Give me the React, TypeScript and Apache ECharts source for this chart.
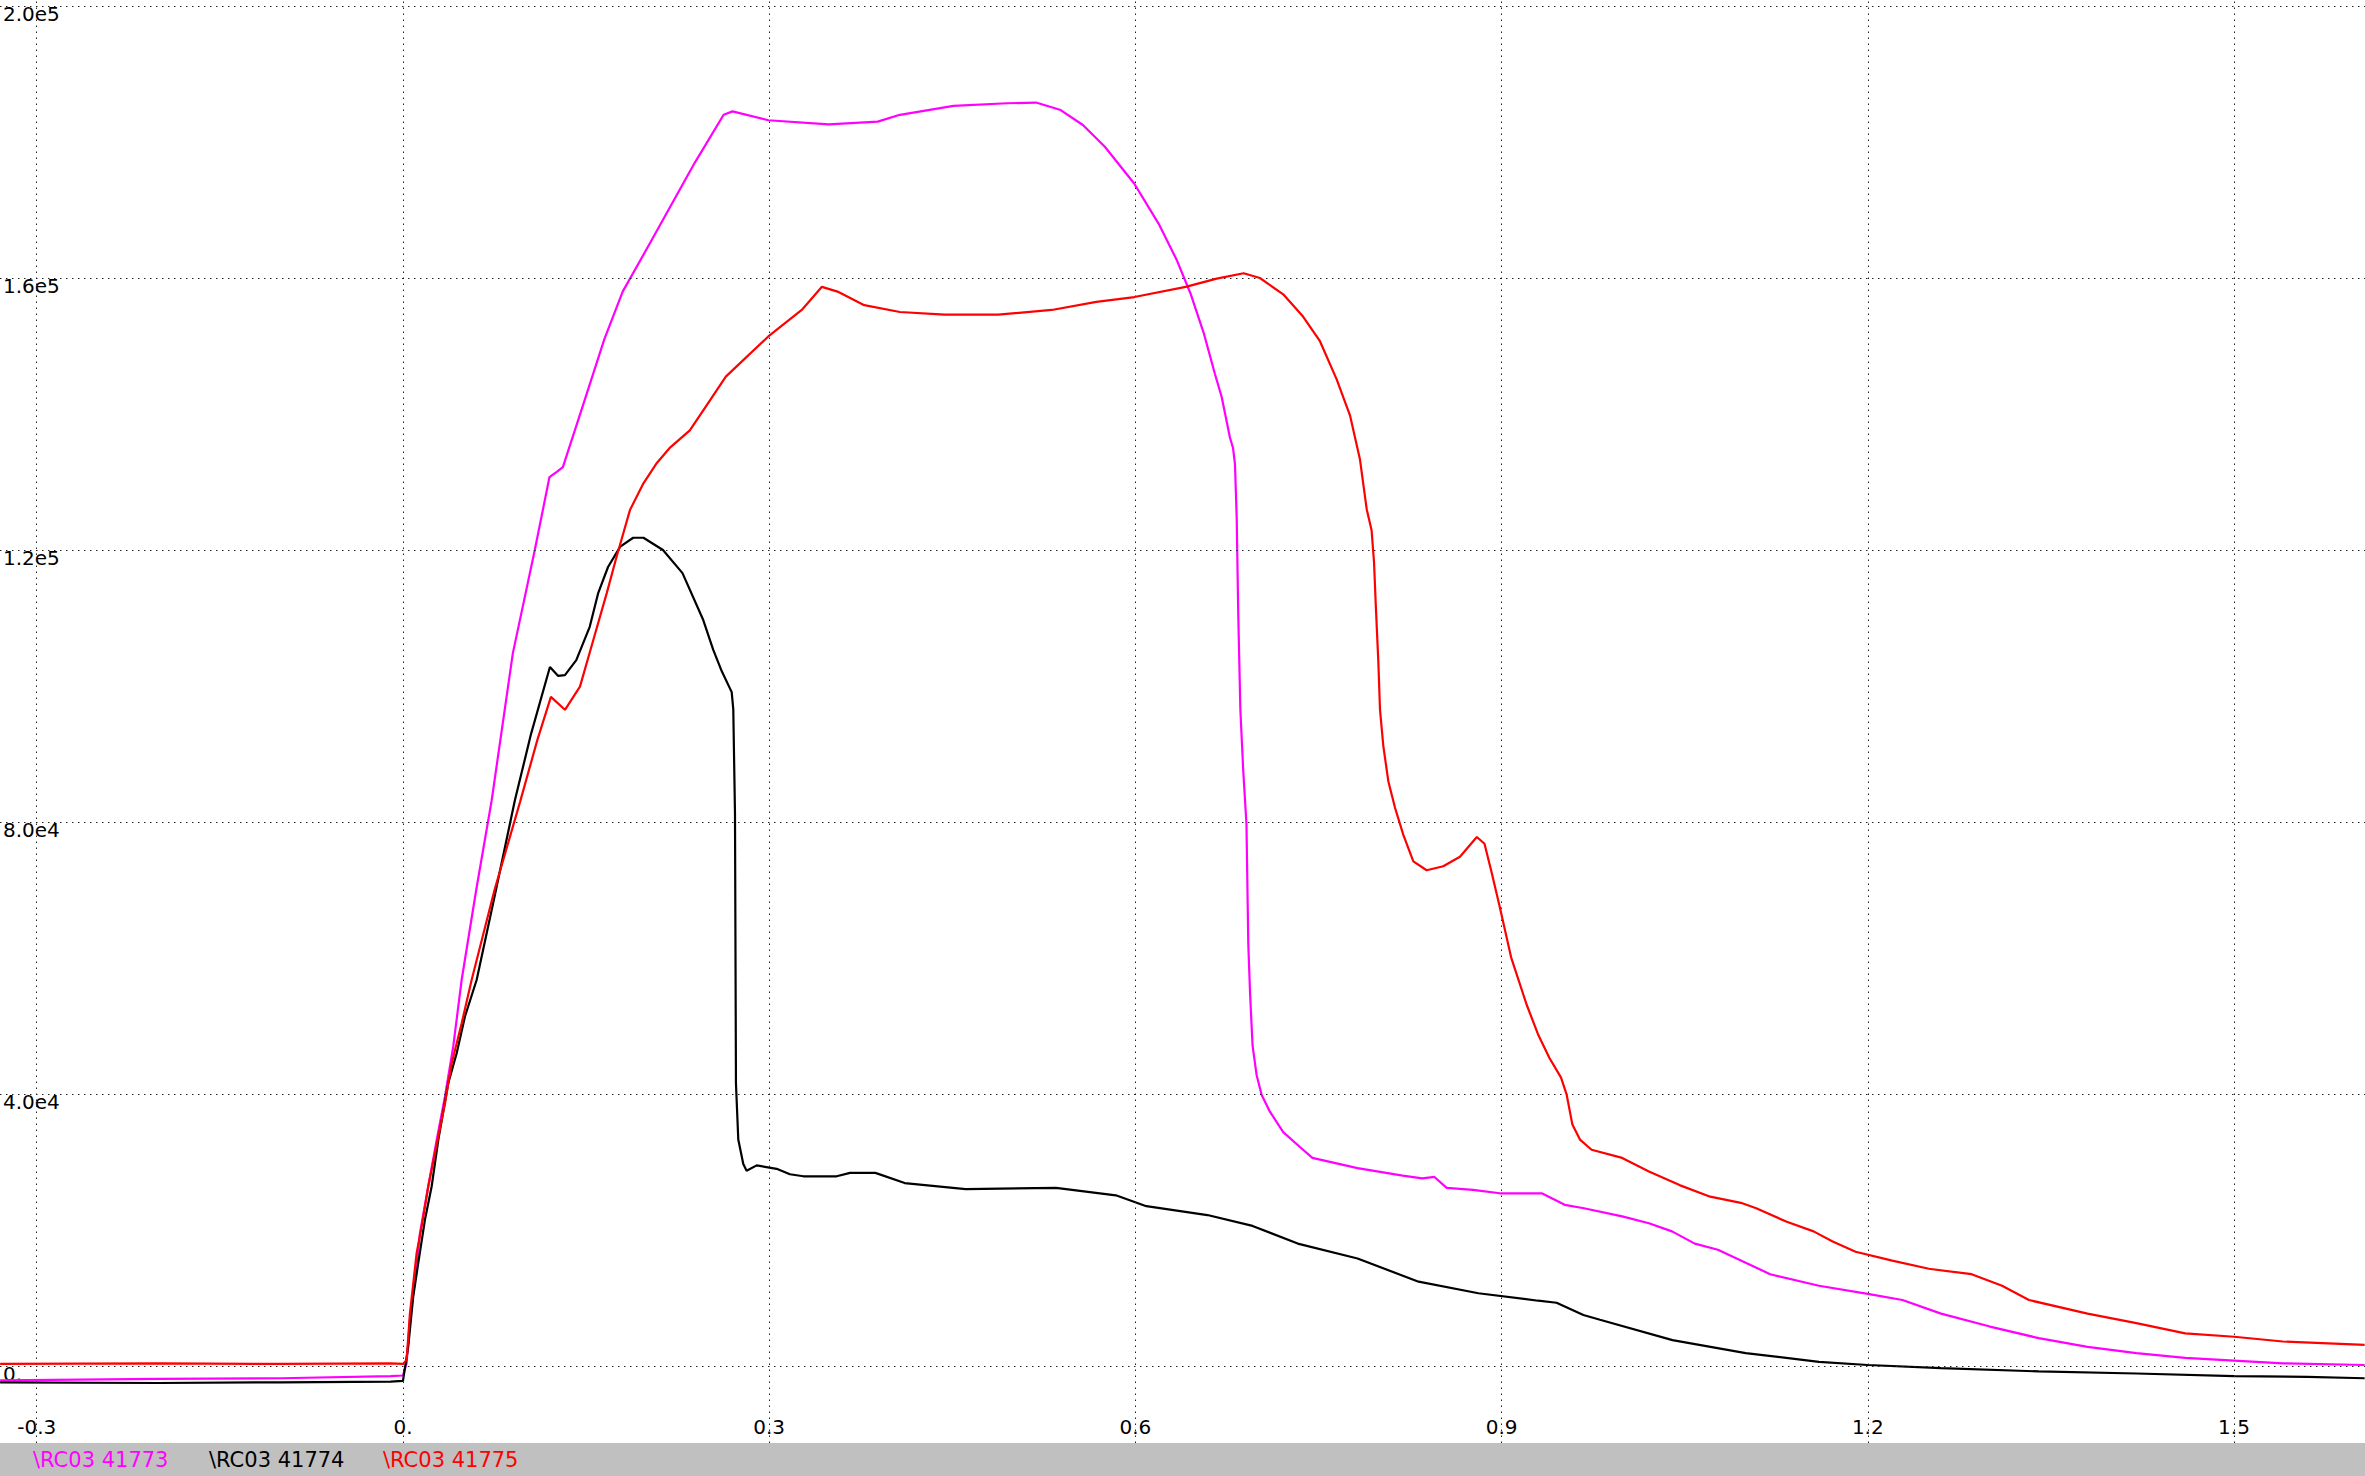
import React, { useEffect, useRef } from "react";
import * as echarts from "echarts";

const seriesNames = ["\\RC03 41773", "\\RC03 41774", "\\RC03 41775"];
const seriesColors = ["#ff00ff", "#000000", "#ff0000"];

const xTicks = [-0.3, 0, 0.3, 0.6, 0.9, 1.2, 1.5];
const xTickLabels = ["-0.3", "0.", "0.3", "0.6", "0.9", "1.2", "1.5"];
const yTicks = [0, 40000, 80000, 120000, 160000, 200000];
const yTickLabels = ["0.", "4.0e4", "8.0e4", "1.2e5", "1.6e5", "2.0e5"];

const magenta41773: [number, number][] = [
  [-0.33, -2100], [-0.2, -1900], [-0.1, -1800], [-0.01, -1500], [0.0, -1400],
  [0.003, 400], [0.0057, 6800], [0.0098, 12600], [0.0139, 19500], [0.0207, 26400],
  [0.0276, 33200], [0.0344, 39600], [0.0412, 47000], [0.0481, 56800], [0.06, 70000],
  [0.0727, 83200], [0.09, 104800], [0.108, 120000], [0.12, 130700], [0.126, 131500],
  [0.131, 132200], [0.147, 141000], [0.165, 151000], [0.18, 158000], [0.2023, 165100],
  [0.2389, 176900], [0.2627, 184000], [0.27, 184500], [0.2993, 183200], [0.3487, 182600],
  [0.3889, 183000], [0.4071, 184000], [0.451, 185300], [0.4948, 185700], [0.5186, 185800],
  [0.5388, 184700], [0.557, 182500], [0.575, 179300], [0.599, 173900], [0.619, 168000],
  [0.634, 162600], [0.645, 157800], [0.656, 151900], [0.665, 146000], [0.6707, 142500],
  [0.6775, 136500], [0.68, 135000], [0.6816, 132600], [0.683, 124700], [0.6843, 110300],
  [0.686, 96500], [0.6884, 87400], [0.691, 79700], [0.6925, 62000], [0.694, 54600],
  [0.696, 47100], [0.6993, 42800], [0.7034, 39900], [0.7102, 37400], [0.7211, 34400],
  [0.7348, 32200], [0.745, 30600], [0.782, 29100], [0.819, 28000], [0.835, 27600],
  [0.845, 27800], [0.855, 26200], [0.8766, 25900], [0.8985, 25400], [0.9329, 25400],
  [0.9517, 23700], [0.9675, 23200], [0.9988, 22000], [1.0207, 21000], [1.0396, 19800],
  [1.0583, 18000], [1.0772, 17100], [1.12, 13500], [1.16, 11800], [1.2, 10600],
  [1.2284, 9700], [1.26, 7700], [1.3, 5800], [1.34, 4100], [1.38, 2800],
  [1.42, 1900], [1.46, 1200], [1.5, 800], [1.54, 400], [1.607, 150],
];

const black41774: [number, number][] = [
  [-0.33, -2400], [-0.2, -2500], [-0.1, -2400], [-0.01, -2300], [0.0, -2200],
  [0.0043, 2800], [0.0084, 10200], [0.0125, 15100], [0.018, 21500], [0.0235, 26400],
  [0.0289, 33200], [0.0371, 41600], [0.044, 46000], [0.0508, 51400], [0.0604, 56800],
  [0.075, 69000], [0.0917, 83200], [0.105, 93000], [0.1204, 102800], [0.127, 101500],
  [0.1327, 101600], [0.142, 103800], [0.153, 108700], [0.16, 113700], [0.168, 117500],
  [0.178, 120500], [0.1886, 121800], [0.197, 121800], [0.213, 120000], [0.229, 116600],
  [0.246, 109700], [0.2542, 105300], [0.2611, 102200], [0.2693, 99100], [0.2706, 96600],
  [0.272, 81200], [0.2728, 41500], [0.2747, 33300], [0.2788, 29700], [0.2815, 28700],
  [0.2898, 29500], [0.3061, 29000], [0.317, 28200], [0.328, 27900], [0.3553, 27900],
  [0.3662, 28400], [0.387, 28400], [0.411, 26900], [0.461, 26000], [0.535, 26200],
  [0.584, 25100], [0.609, 23500], [0.659, 22200], [0.696, 20600], [0.733, 18000],
  [0.782, 15800], [0.832, 12400], [0.881, 10700], [0.93, 9600], [0.945, 9300],
  [0.967, 7500], [0.9806, 6800], [1.04, 3800], [1.1, 1900], [1.16, 600],
  [1.2, 150], [1.26, -300], [1.34, -800], [1.42, -1100], [1.5, -1500],
  [1.56, -1600], [1.607, -1800],
];

const red41775: [number, number][] = [
  [-0.33, 300], [-0.2, 400], [-0.1, 300], [-0.01, 400], [0.0, 300],
  [0.003, 900], [0.0057, 7700], [0.0112, 16600], [0.0153, 20500], [0.0207, 26400],
  [0.0262, 31300], [0.0344, 38600], [0.0399, 44500], [0.0481, 50400], [0.0563, 56800],
  [0.075, 70000], [0.096, 83000], [0.11, 92000], [0.1212, 98400], [0.1327, 96500],
  [0.145, 99900], [0.156, 106800], [0.167, 113700], [0.175, 119000], [0.179, 121500],
  [0.186, 125900], [0.197, 129800], [0.208, 132800], [0.219, 135100], [0.235, 137600],
  [0.2515, 142000], [0.2645, 145500], [0.2993, 151400], [0.3267, 155300], [0.3432, 158700],
  [0.356, 158000], [0.3779, 156000], [0.4071, 155000], [0.4437, 154600], [0.4876, 154600],
  [0.5315, 155300], [0.568, 156500], [0.5992, 157200], [0.6412, 158700], [0.6666, 159900],
  [0.6887, 160700], [0.702, 160000], [0.7211, 157600], [0.7375, 154300], [0.7512, 150700],
  [0.7649, 145100], [0.7758, 139800], [0.784, 133300], [0.7895, 126000], [0.7935, 122900],
  [0.7955, 118200], [0.797, 111600], [0.799, 103700], [0.8004, 96500], [0.8031, 91200],
  [0.8072, 86000], [0.8127, 82100], [0.8195, 78100], [0.8277, 74200], [0.8386, 72900],
  [0.8522, 73500], [0.8659, 74900], [0.8797, 77800], [0.886, 76800], [0.8921, 72400],
  [0.8985, 67500], [0.9078, 60100], [0.9204, 53200], [0.9298, 48800], [0.9392, 45300],
  [0.9487, 42400], [0.9533, 39900], [0.958, 35500], [0.9642, 33300], [0.9737, 31800],
  [0.9988, 30600], [1.0207, 28600], [1.0458, 26600], [1.0709, 24900], [1.096, 24000],
  [1.1086, 23200], [1.1336, 21200], [1.1556, 19800], [1.1712, 18300], [1.19, 16800],
  [1.22, 15500], [1.25, 14300], [1.285, 13500], [1.31, 11800], [1.332, 9700],
  [1.38, 7700], [1.42, 6300], [1.46, 4800], [1.5, 4300], [1.54, 3600], [1.607, 3100],
];

const seriesData = [magenta41773, black41774, red41775];

const W = 2365;
const H = 1476;
const FONT = "'DejaVu Sans', sans-serif";

export default function App() {
  const ref = useRef<HTMLDivElement>(null);

  useEffect(() => {
    document.body.style.margin = "0";
    if (!ref.current) return;
    const chart = echarts.init(ref.current, undefined, { renderer: "svg" });

    const legendX = [33, 209, 383];

    const option: any = {
      animation: false,
      backgroundColor: "#ffffff",
      grid: { left: 0, right: 0, top: 0, bottom: 33, containLabel: false },
      xAxis: {
        type: "value",
        min: -0.3301,
        max: 1.6073,
        axisLine: { show: false },
        axisTick: { show: false },
        splitLine: { show: false },
        axisLabel: {
          inside: true,
          margin: 6,
          customValues: xTicks,
          color: "#000",
          fontSize: 20,
          fontFamily: FONT,
          formatter: (v: number) => {
            const i = xTicks.findIndex((t) => Math.abs(t - v) < 1e-6);
            return i >= 0 ? xTickLabels[i] : "";
          },
        },
      },
      yAxis: {
        type: "value",
        min: -11324,
        max: 200882,
        axisLine: { show: false },
        axisTick: { show: false },
        splitLine: { show: false },
        axisLabel: {
          inside: true,
          margin: 3,
          customValues: yTicks,
          color: "#000",
          fontSize: 20,
          fontFamily: FONT,
          verticalAlign: "top",
          lineHeight: 17,
          formatter: (v: number) => {
            const i = yTicks.findIndex((t) => Math.abs(t - v) < 1e-6);
            return i >= 0 ? yTickLabels[i] : "";
          },
        },
      },
      series: [
        {
          type: "line",
          name: "grid",
          data: [[-0.3, 0]],
          showSymbol: false,
          silent: true,
          lineStyle: { opacity: 0 },
          z: 1,
          markLine: {
            silent: true,
            symbol: ["none", "none"],
            label: { show: false },
            emphasis: { disabled: true },
            lineStyle: { color: "#222", width: 1, type: [1.5, 4.5] },
            data: [
              ...xTicks.map((v) => ({ xAxis: v })),
              ...yTicks.map((v) => ({ yAxis: v })),
            ],
          },
        },
        ...seriesData.map((d, i) => ({
          type: "line",
          name: seriesNames[i],
          data: d,
          showSymbol: false,
          z: 3 + i,
          color: seriesColors[i],
          lineStyle: { color: seriesColors[i], width: 2.2 },
          emphasis: { disabled: true },
        })),
      ],
      graphic: [
        {
          type: "rect",
          left: 0,
          top: H - 33,
          shape: { width: W, height: 33 },
          style: { fill: "#c0c0c0" },
          z: 10,
        },
        ...seriesNames.map((n, i) => ({
          type: "text",
          x: legendX[i],
          y: H - 16,
          z: 11,
          style: {
            text: n,
            fill: seriesColors[i],
            fontSize: 21,
            fontFamily: FONT,
            verticalAlign: "middle",
            textVerticalAlign: "middle",
          },
        })),
      ],
    };

    chart.setOption(option);
    return () => chart.dispose();
  }, []);

  return <div ref={ref} style={{ width: W, height: H }} />;
}
